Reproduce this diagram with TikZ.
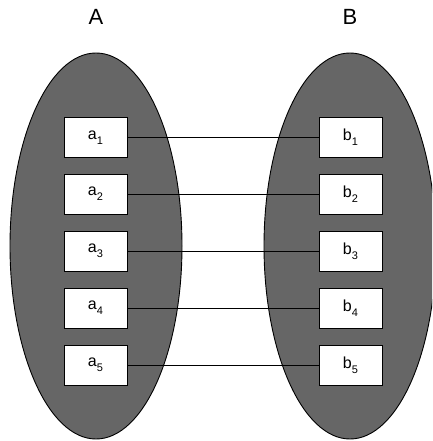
\documentclass[tikz,border=0pt]{standalone}
\usepackage{fontspec}
\setmainfont{Liberation Sans}
\usetikzlibrary{shapes.geometric}
\begin{document}
\begin{tikzpicture}[x=1pt,y=-1pt,
  setshape/.style={draw=black,line width=0.9pt,fill=setgray,ellipse,minimum width=172pt,minimum height=386pt,inner sep=0pt},
  elem/.style={draw=black,line width=0.9pt,fill=white,rectangle,minimum width=63pt,minimum height=40pt,inner sep=0pt,font=\fontsize{16}{19}\selectfont},
  title/.style={font=\fontsize{22}{26}\selectfont},
  link/.style={draw=black,line width=0.9pt}]
\definecolor{setgray}{HTML}{666666}
\useasboundingbox (0,0) rectangle (432,441);
\begin{scope}
\clip (0,0) rectangle (432,441);
\node[setshape] (SA) at (96,246) {};
\node[setshape] (SB) at (350,246) {};
\end{scope}
\node[title] (A) at (96,17) {A};
\node[title] (B) at (350,17) {B};
\foreach \i/\y in {1/137.5,2/194,3/251,4/308,5/365}{
  \node[elem] (a\i) at (95.5,\y) {a\raisebox{-5pt}{\fontsize{11}{12}\selectfont\i}};
  \node[elem] (b\i) at (350.5,\y) {b\raisebox{-5pt}{\fontsize{11}{12}\selectfont\i}};
  \draw[link] (a\i.east) -- (b\i.west);
}
\end{tikzpicture}
\end{document}
